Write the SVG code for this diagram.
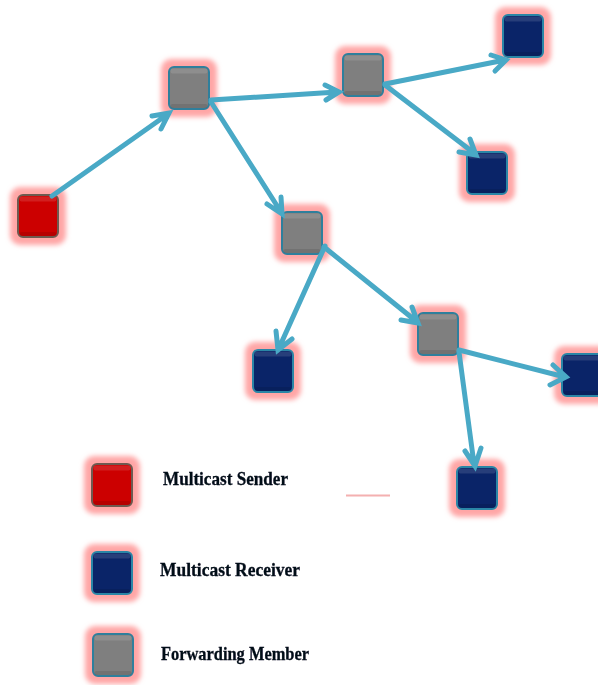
<svg xmlns="http://www.w3.org/2000/svg" width="598" height="685" viewBox="0 0 598 685">
<style>
.halo{fill:#ffa6a6;stroke:none;filter:url(#blur)}
.conn{fill:none;stroke:#4aa9c6;stroke-width:5;stroke-linecap:round;stroke-linejoin:miter}
.lbl{font-family:"Liberation Serif","Times New Roman",serif;font-weight:bold;font-size:19px;fill:#060a18;stroke:#060a18;stroke-width:.3;filter:url(#soft)}
.frame{stroke-width:2}
.gray{fill:#7f7f7f;stroke:#2f7f9c}
.blue{fill:#0a2468;stroke:#2a86a6}
.red{fill:#cc0000;stroke:#6e5a50}
.gloss{fill:#fff;stroke:none;opacity:.12}
.shade{fill:#000;stroke:none;opacity:.1}
</style>
<defs>
<filter id="blur" x="-40%" y="-40%" width="180%" height="180%"><feGaussianBlur stdDeviation="2.600"/></filter>
<filter id="soft" x="-5%" y="-20%" width="110%" height="140%"><feGaussianBlur stdDeviation="0.4"/></filter>
<filter id="lineblur" filterUnits="userSpaceOnUse" x="0" y="0" width="598" height="685"><feGaussianBlur stdDeviation="0.6"/></filter>
<g id="box">
<rect class="halo" x="-28" y="-29" width="56" height="58" rx="10"/>
<rect class="frame" x="-20" y="-21" width="40" height="42" rx="5"/>
<rect class="gloss" x="-18.500" y="-19.500" width="37" height="5" rx="2"/>
<rect class="shade" x="-18.500" y="16" width="37" height="4" rx="2"/>
</g>
</defs>
<rect width="598" height="685" fill="#fff"/>
<g id="n-sender" class="red"><use href="#box" transform="translate(38 216)"/></g>
<g id="n-f1" class="gray"><use href="#box" transform="translate(189 88)"/></g>
<g id="n-f2" class="gray"><use href="#box" transform="translate(363 75)"/></g>
<g id="n-f3" class="gray"><use href="#box" transform="translate(302 233)"/></g>
<g id="n-f4" class="gray"><use href="#box" transform="translate(438 334)"/></g>
<g id="n-r1" class="blue"><use href="#box" transform="translate(523 36)"/></g>
<g id="n-r2" class="blue"><use href="#box" transform="translate(487 173)"/></g>
<g id="n-r3" class="blue"><use href="#box" transform="translate(273 371)"/></g>
<g id="n-r4" class="blue"><use href="#box" transform="translate(582 375)"/></g>
<g id="n-r5" class="blue"><use href="#box" transform="translate(477 488)"/></g>
<g id="connectors" filter="url(#lineblur)">
<path class="conn" d="M52 196L168 114M152 116L169 113L161 129"/>
<path class="conn" d="M211 100L337 92M325 85L339 92L326 100"/>
<path class="conn" d="M211 102L281 212M267 204L282 214L281 197"/>
<path class="conn" d="M385 84L505 60M491 55L506 60L495 71"/>
<path class="conn" d="M385 85L474 153M459 152L476 155L470 139"/>
<path class="conn" d="M325 246L279 348M276 331L278 350L292 339"/>
<path class="conn" d="M324 247L416 321M401 320L418 323L412 307"/>
<path class="conn" d="M459 350L565 377M553 365L566 377L550 385"/>
<path class="conn" d="M459 352L474 464M465 451L475 466L481 448"/>
</g>
<g id="legend-sender" class="red"><use href="#box" transform="translate(112 485)"/><text class="lbl" x="163" y="485" textLength="125" lengthAdjust="spacingAndGlyphs">Multicast Sender</text></g>
<g id="legend-receiver" class="blue"><use href="#box" transform="translate(112 573)"/><text class="lbl" x="160" y="576" textLength="140" lengthAdjust="spacingAndGlyphs">Multicast Receiver</text></g>
<g id="legend-forwarding" class="gray"><use href="#box" transform="translate(113 655)"/><text class="lbl" x="161" y="660" textLength="148" lengthAdjust="spacingAndGlyphs">Forwarding Member</text></g>
<path d="M346 495.500H390" stroke="#f4b0b0" stroke-width="2" filter="url(#lineblur)" fill="none"/>
</svg>
